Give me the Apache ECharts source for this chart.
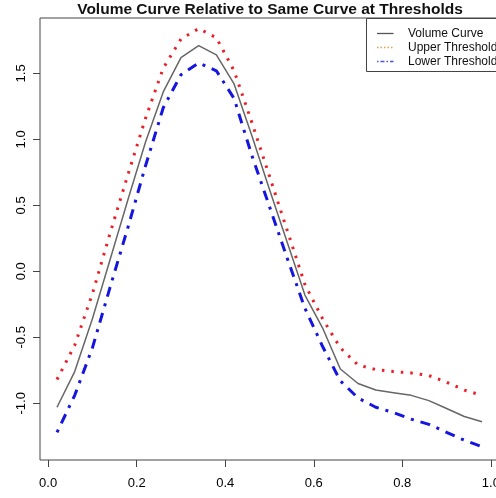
<!DOCTYPE html>
<html>
<head>
<meta charset="utf-8">
<script src="https://cdn.jsdelivr.net/npm/echarts@6/dist/echarts.min.js"></script>
<style>
html,body{margin:0;padding:0;background:#fff;}
#c{width:496px;height:498px;}
</style>
</head>
<body>
<div id="c"></div>
<script>
const titleText = 'Volume Curve Relative to Same Curve at Thresholds';
const seriesNames = ['Volume Curve', 'Upper Threshold', 'Lower Threshold'];
const xValues = [0.02, 0.06, 0.10, 0.14, 0.18, 0.22, 0.26, 0.30, 0.34, 0.38, 0.42, 0.46, 0.50, 0.54, 0.58, 0.62, 0.66, 0.70, 0.74, 0.78, 0.82, 0.86, 0.90, 0.94, 0.98];
const volumeCurve = [-1.03, -0.76, -0.36, 0.09, 0.54, 0.98, 1.36, 1.62, 1.71, 1.64, 1.42, 1.03, 0.62, 0.22, -0.18, -0.43, -0.74, -0.85, -0.90, -0.92, -0.94, -0.98, -1.04, -1.10, -1.14];
const upperThreshold = [-0.82, -0.56, -0.17, 0.29, 0.73, 1.16, 1.54, 1.76, 1.84, 1.77, 1.52, 1.13, 0.72, 0.31, -0.10, -0.36, -0.58, -0.71, -0.745, -0.76, -0.77, -0.79, -0.84, -0.90, -0.94];
const lowerThreshold = [-1.22, -0.94, -0.58, -0.12, 0.33, 0.80, 1.24, 1.49, 1.58, 1.52, 1.31, 0.88, 0.49, 0.10, -0.28, -0.57, -0.83, -0.96, -1.03, -1.07, -1.12, -1.16, -1.22, -1.28, -1.33];
const xTicks = [0, 0.2, 0.4, 0.6, 0.8, 1.0];
const yTicks = [-1.0, -0.5, 0.0, 0.5, 1.0, 1.5];

const pairs = ys => xValues.map((x, i) => [x, ys[i]]);
const FONT = '"Liberation Sans", Arial, sans-serif';

const legendStyles = [
  {stroke: '#555', lineWidth: 1.3},
  {stroke: '#e8a050', lineWidth: 1.6, lineDash: [1.5, 2]},
  {stroke: '#4a55d0', lineWidth: 1.4, lineDash: [1.5, 2, 4, 2]}
];
const legendGraphics = [{
  type: 'rect', shape: {x: 366.5, y: 18.5, width: 200, height: 53},
  style: {fill: '#fff', stroke: '#444', lineWidth: 1}, z: 10
}];
seriesNames.forEach((name, i) => {
  const y = 33.5 + i * 14;
  legendGraphics.push({type: 'line', shape: {x1: 377, y1: y, x2: 393.5, y2: y}, style: legendStyles[i], z: 11});
  legendGraphics.push({type: 'text', x: 408, y: y, style: {text: name, fontFamily: FONT, fontSize: 12, fill: '#111', verticalAlign: 'middle', align: 'left'}, z: 11});
});

const chart = echarts.init(document.getElementById('c'), null, {renderer: 'canvas'});
chart.setOption({
  animation: false,
  backgroundColor: '#fff',
  title: {
    text: titleText,
    left: 265, top: -3, textAlign: 'center',
    textStyle: {fontFamily: FONT, fontSize: 15.5, fontWeight: 'bold', color: '#111'}
  },
  grid: {left: 40, top: 18, right: -3, bottom: 38, show: true, borderColor: '#444', borderWidth: 1,
    backgroundColor: 'transparent', outerBoundsMode: 'none', containLabel: false},
  xAxis: {
    type: 'value', min: -0.0184, max: 1.0184,
    axisLine: {show: false, onZero: false},
    splitLine: {show: false},
    axisTick: {show: true, customValues: xTicks, length: 7, lineStyle: {color: '#444'}},
    axisLabel: {customValues: xTicks, margin: 17, fontFamily: FONT, fontSize: 13, color: '#000',
      formatter: v => v.toFixed(1)}
  },
  yAxis: {
    type: 'value', min: -1.43, max: 1.92,
    axisLine: {show: false, onZero: false},
    splitLine: {show: false},
    axisTick: {show: true, customValues: yTicks, length: 7, lineStyle: {color: '#444'}},
    axisLabel: {customValues: yTicks, margin: 12, rotate: 90, fontFamily: FONT, fontSize: 13, color: '#000',
      formatter: v => v.toFixed(1)}
  },
  graphic: legendGraphics,
  series: [
    {name: seriesNames[0], type: 'line', data: pairs(volumeCurve), symbol: 'none', smooth: false,
      lineStyle: {color: '#666', width: 1.5}, itemStyle: {color: '#666'}, z: 3},
    {name: seriesNames[1], type: 'line', data: pairs(upperThreshold), symbol: 'none',
      lineStyle: {color: '#ee1c25', width: 3, type: [2.5, 7]}, itemStyle: {color: '#ee1c25'}, z: 2},
    {name: seriesNames[2], type: 'line', data: pairs(lowerThreshold), symbol: 'none',
      lineStyle: {color: '#1515e0', width: 3, type: [3, 7, 10, 7]}, itemStyle: {color: '#1515e0'}, z: 2}
  ]
});
</script>
</body>
</html>
